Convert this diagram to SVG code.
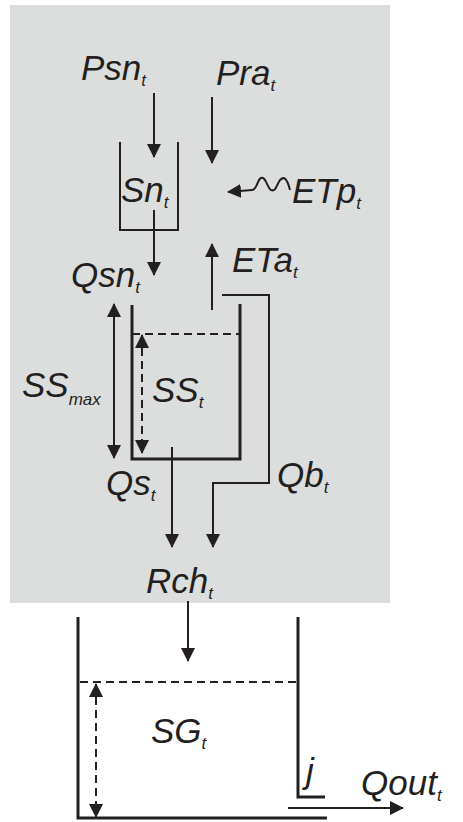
<svg xmlns="http://www.w3.org/2000/svg" width="463" height="822" viewBox="0 0 463 822">
<style>
.lbl{font-family:"Liberation Sans",Arial,sans-serif;font-style:italic;font-size:35px;fill:#231f20}
.sub{font-family:"Liberation Sans",Arial,sans-serif;font-style:italic;font-size:17px;fill:#231f20}
.arr{stroke:#231f20;stroke-width:2;fill:none}
.wall{stroke:#231f20;stroke-width:3;fill:none}
.dash{stroke:#231f20;stroke-width:2;fill:none;stroke-dasharray:8 5}
</style>
<defs>
<marker id="ah" markerWidth="14" markerHeight="14" refX="13" refY="7" orient="auto" markerUnits="userSpaceOnUse">
<path d="M0,0 L14,7 L0,14 Z" fill="#231f20"/>
</marker>
<marker id="as" markerWidth="14" markerHeight="14" refX="1" refY="7" orient="auto" markerUnits="userSpaceOnUse">
<path d="M14,0 L0,7 L14,14 Z" fill="#231f20"/>
</marker>
</defs>
<rect id="basin" x="10" y="5" width="380" height="598" fill="#dcdddd"/>

<g id="snow-store">
<path class="arr" d="M120,142 V230 H178 V142"/>
<text class="lbl" x="121" y="202">Sn<tspan class="sub" dy="6">t</tspan></text>
</g>
<g id="soil-store">
<path class="wall" d="M132,305 V459 H240 V304"/>
<line class="dash" x1="132" y1="334" x2="240" y2="334"/>
<text class="lbl" x="152" y="402">SS<tspan class="sub" dy="6">t</tspan></text>
</g>
<g id="ground-store">
<path class="wall" d="M78,617 V818 H327"/>
<path class="wall" d="M298,617 V797 H325"/>
<line class="dash" x1="80" y1="682" x2="296" y2="682"/>
<text class="lbl" x="151" y="743">SG<tspan class="sub" dy="6">t</tspan></text>
<text class="lbl" x="306" y="783">j</text>
</g>

<g id="labels">
<text class="lbl" x="81" y="80">Psn<tspan class="sub" dy="6">t</tspan></text>
<text class="lbl" x="216" y="85">Pra<tspan class="sub" dy="6">t</tspan></text>
<text class="lbl" x="292" y="203">ETp<tspan class="sub" dy="6">t</tspan></text>
<text class="lbl" x="232" y="272">ETa<tspan class="sub" dy="6">t</tspan></text>
<text class="lbl" x="71" y="287">Qsn<tspan class="sub" dy="6">t</tspan></text>
<text class="lbl" x="22" y="397">SS<tspan class="sub" font-size="20" dy="8">max</tspan></text>
<text class="lbl" x="106" y="495">Qs<tspan class="sub" dy="6">t</tspan></text>
<text class="lbl" x="277" y="487">Qb<tspan class="sub" dy="6">t</tspan></text>
<text class="lbl" x="146" y="593">Rch<tspan class="sub" dy="6">t</tspan></text>
<text class="lbl" x="361" y="795">Qout<tspan class="sub" dy="6">t</tspan></text>
</g>

<g id="connectors">
<line class="arr" x1="154" y1="93" x2="154" y2="157" marker-end="url(#ah)"/>
<line class="arr" x1="212" y1="97" x2="212" y2="163" marker-end="url(#ah)"/>
<path class="arr" d="M290,190 C287,178 284,176 280,180 C276,186 276,192 271,190 C267,188 266,176 261,178 C257,180 257,190 252,190 L228,192" marker-end="url(#ah)"/>
<line class="arr" x1="154" y1="210" x2="154" y2="275" marker-end="url(#ah)"/>
<line class="arr" x1="212" y1="310" x2="212" y2="244" marker-end="url(#ah)"/>
<path class="arr" d="M222,295 H269 V483 H213 V547" marker-end="url(#ah)"/>
<line class="arr" x1="114" y1="304" x2="114" y2="458" marker-start="url(#as)" marker-end="url(#ah)"/>
<line class="dash" x1="142" y1="335" x2="142" y2="453" marker-start="url(#as)" marker-end="url(#ah)"/>
<line class="arr" x1="172" y1="447" x2="172" y2="547" marker-end="url(#ah)"/>
<line class="arr" x1="188" y1="601" x2="188" y2="661" marker-end="url(#ah)"/>
<line class="dash" x1="96" y1="684" x2="96" y2="817" marker-start="url(#as)" marker-end="url(#ah)"/>
<line class="arr" x1="288" y1="808" x2="403" y2="808" marker-end="url(#ah)"/>
</g>
</svg>
